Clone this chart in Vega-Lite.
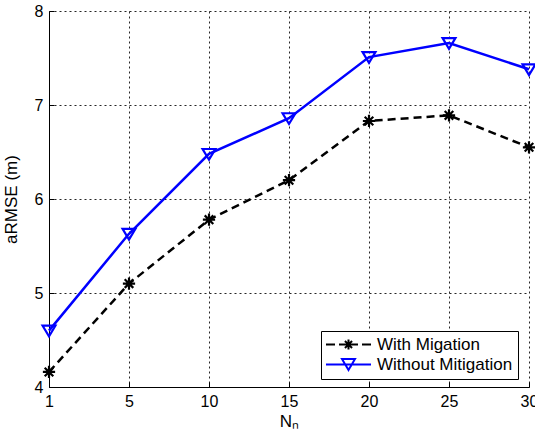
{
  "$schema": "https://vega.github.io/schema/vega-lite/v6.json",
  "autosize": {"type": "none"},
  "width": 480,
  "height": 376,
  "padding": {"left": 49, "top": 11, "right": 6, "bottom": 48},
  "background": "white",
  "config": {
    "view": {"stroke": null},
    "font": "Liberation Sans",
    "axis": {
      "labelFont": "Liberation Sans",
      "titleFont": "Liberation Sans",
      "labelFontSize": 16,
      "titleFontSize": 17,
      "labelColor": "black",
      "titleColor": "black",
      "titleFontWeight": "normal",
      "domainColor": "black",
      "domainWidth": 1,
      "tickColor": "black",
      "tickSize": -5,
      "labelPadding": 11,
      "grid": true,
      "gridColor": "black",
      "gridOpacity": 0.85,
      "gridDash": [2, 3],
      "gridWidth": 1
    }
  },
  "data": {
    "values": [
      {"N": "1", "series": "With Migation", "v": 4.16},
      {"N": "5", "series": "With Migation", "v": 5.10},
      {"N": "10", "series": "With Migation", "v": 5.78},
      {"N": "15", "series": "With Migation", "v": 6.20},
      {"N": "20", "series": "With Migation", "v": 6.83},
      {"N": "25", "series": "With Migation", "v": 6.89},
      {"N": "30", "series": "With Migation", "v": 6.55},
      {"N": "1", "series": "Without Mitigation", "v": 4.60},
      {"N": "5", "series": "Without Mitigation", "v": 5.63},
      {"N": "10", "series": "Without Mitigation", "v": 6.48},
      {"N": "15", "series": "Without Mitigation", "v": 6.86},
      {"N": "20", "series": "Without Mitigation", "v": 7.51},
      {"N": "25", "series": "Without Mitigation", "v": 7.66},
      {"N": "30", "series": "Without Mitigation", "v": 7.38}
    ]
  },
  "encoding": {
    "x": {
      "field": "N",
      "type": "ordinal",
      "sort": ["1", "5", "10", "15", "20", "25", "30"],
      "scale": {"type": "point", "padding": 0},
      "axis": {"labelAngle": 0, "title": "Nₙ", "titlePadding": 4}
    },
    "y": {
      "field": "v",
      "type": "quantitative",
      "scale": {"domain": [4, 8], "nice": false, "zero": false},
      "axis": {"values": [4, 5, 6, 7, 8], "title": "aRMSE (m)", "titlePadding": 14}
    },
    "color": {
      "field": "series",
      "type": "nominal",
      "scale": {"domain": ["With Migation", "Without Mitigation"], "range": ["black", "blue"]},
      "legend": {
        "title": null,
        "orient": "none",
        "legendX": 272,
        "legendY": 320,
        "strokeColor": "black",
        "fillColor": "white",
        "padding": 5,
        "cornerRadius": 0,
        "rowPadding": 1,
        "labelFont": "Liberation Sans",
        "labelFontSize": 17,
        "labelColor": "black",
        "labelOffset": 34,
        "symbolSize": 225,
        "symbolStrokeWidth": 2,
        "encoding": {
          "symbols": {
            "shape": {"value": {"expr": "datum.value === 'With Migation' ? 'M-1.133,0H0.067M0.6,0H1.267M2.467,0H3.133M3.667,0H4.867M1.867,-0.667V0.667M1.2,0H2.533M1.395,-0.471L2.338,0.471M1.395,0.471L2.338,-0.471' : 'M-1.133,0H4.867M1.0,-0.733L2.733,-0.733L1.867,0.733Z'"}},
            "size": {"value": 225},
            "fill": {"value": "transparent"},
            "strokeWidth": {"value": 2},
            "strokeDash": {"value": [1, 0]},
            "opacity": {"value": 1}
          }
        }
      }
    }
  },
  "layer": [
    {
      "transform": [{"filter": "datum.series === 'With Migation'"}],
      "mark": {"type": "line", "strokeWidth": 2.5, "strokeDash": [8, 5]}
    },
    {
      "transform": [{"filter": "datum.series === 'Without Mitigation'"}],
      "mark": {"type": "line", "strokeWidth": 2.5}
    },
    {
      "transform": [{"filter": "datum.series === 'With Migation'"}],
      "mark": {"type": "point", "filled": false, "strokeWidth": 2.2, "size": 150, "opacity": 1, "shape": "M0,-1V1M-1,0H1M-0.7,-0.7L0.7,0.7M-0.7,0.7L0.7,-0.7"}
    },
    {
      "transform": [{"filter": "datum.series === 'Without Mitigation'"}],
      "mark": {"type": "point", "filled": false, "strokeWidth": 2.2, "size": 150, "opacity": 1, "shape": "M-1.05,-0.8L1.05,-0.8L0,0.95Z"}
    }
  ]
}
